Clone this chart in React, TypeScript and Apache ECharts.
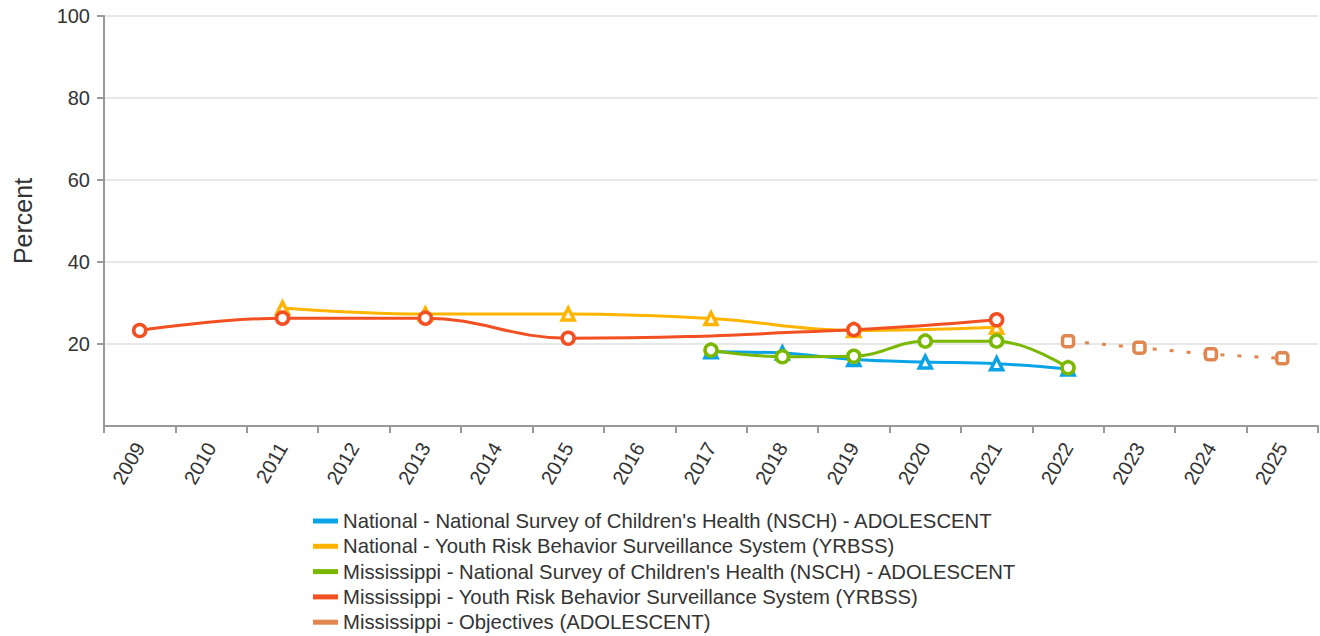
import React, { useEffect, useRef } from "react";
import * as echarts from "echarts";

const years = ["2009","2010","2011","2012","2013","2014","2015","2016","2017","2018","2019","2020","2021","2022","2023","2024","2025"];
const natNSCH = [null,null,null,null,null,null,null,null,18.1,17.8,16.2,15.6,15.2,13.9,null,null,null];
const natYRBSS = [null,null,28.8,null,27.3,null,27.3,null,26.2,null,23.3,null,24.1,null,null,null,null];
const msNSCH = [null,null,null,null,null,null,null,null,18.5,16.9,17.0,20.7,20.7,14.2,null,null,null];
const msYRBSS = [23.3,null,26.3,null,26.3,null,21.4,null,null,null,23.5,null,25.9,null,null,null,null];
const msObjectives = [null,null,null,null,null,null,null,null,null,null,null,null,null,20.7,19.1,17.5,16.5];

const names = [
  "National - National Survey of Children's Health (NSCH) - ADOLESCENT",
  "National - Youth Risk Behavior Surveillance System (YRBSS)",
  "Mississippi - National Survey of Children's Health (NSCH) - ADOLESCENT",
  "Mississippi - Youth Risk Behavior Surveillance System (YRBSS)",
  "Mississippi - Objectives (ADOLESCENT)",
];
const colors = ["#0aa4e6", "#ffb400", "#7ab800", "#f25022", "#e0864f"];

const FONT = "Liberation Sans, Arial, sans-serif";

export default function App() {
  const ref = useRef<HTMLDivElement>(null);
  useEffect(() => {
    document.body.style.margin = "0";
    const chart = echarts.init(ref.current!, null, { renderer: "svg" });
    const mk = (i: number, data: any[], symbol: string, size: number, dashed = false) => ({
      name: names[i],
      type: "line",
      data,
      connectNulls: true,
      smooth: dashed ? false : 0.4,
      symbol,
      symbolSize: size,
      showAllSymbol: true,
      itemStyle: { color: "#ffffff", borderColor: colors[i], borderWidth: 3.5 },
      lineStyle: { color: colors[i], width: 3, type: dashed ? [4, 13] : "solid" },
      z: 2 + i,
    });
    chart.setOption({
      animation: false,
      textStyle: { fontFamily: FONT },
      grid: { left: 104, right: 2, top: 16, bottom: 210, containLabel: false },
      legend: {
        orient: "vertical",
        left: 308,
        top: 506,
        height: 140,
        icon: "rect",
        itemWidth: 25,
        itemHeight: 5,
        itemGap: 5.3,
        textStyle: { fontSize: 20.3, color: "#333", fontFamily: FONT, lineHeight: 20 },
        data: names.map((n, i) => ({ name: n, itemStyle: { color: colors[i], borderWidth: 0 } })),
      },
      xAxis: {
        type: "category",
        data: years,
        boundaryGap: true,
        axisLine: { lineStyle: { color: "#999", width: 2 } },
        axisTick: { show: true, length: 7, lineStyle: { color: "#999", width: 2 } },
        axisLabel: { rotate: 60, fontSize: 20, color: "#333", margin: 18, interval: 0, fontFamily: FONT },
      },
      yAxis: {
        type: "value",
        min: 0,
        max: 100,
        interval: 20,
        name: "Percent",
        nameLocation: "middle",
        nameGap: 69,
        nameTextStyle: { fontSize: 25, color: "#333", fontFamily: FONT },
        axisLine: { show: true, lineStyle: { color: "#999", width: 2 } },
        axisTick: { show: true, length: 7, lineStyle: { color: "#999", width: 2 } },
        axisLabel: { fontSize: 20, color: "#333", margin: 14, showMinLabel: false, fontFamily: FONT },
        splitLine: { lineStyle: { color: "#e0e0e0", width: 1.5 } },
      },
      series: [
        mk(0, natNSCH, "triangle", 12),
        mk(1, natYRBSS, "triangle", 12),
        mk(2, msNSCH, "circle", 12),
        mk(3, msYRBSS, "circle", 12),
        mk(4, msObjectives, "roundRect", 11, true),
      ],
    });
    return () => chart.dispose();
  }, []);
  return <div ref={ref} style={{ width: 1320, height: 636 }} />;
}
